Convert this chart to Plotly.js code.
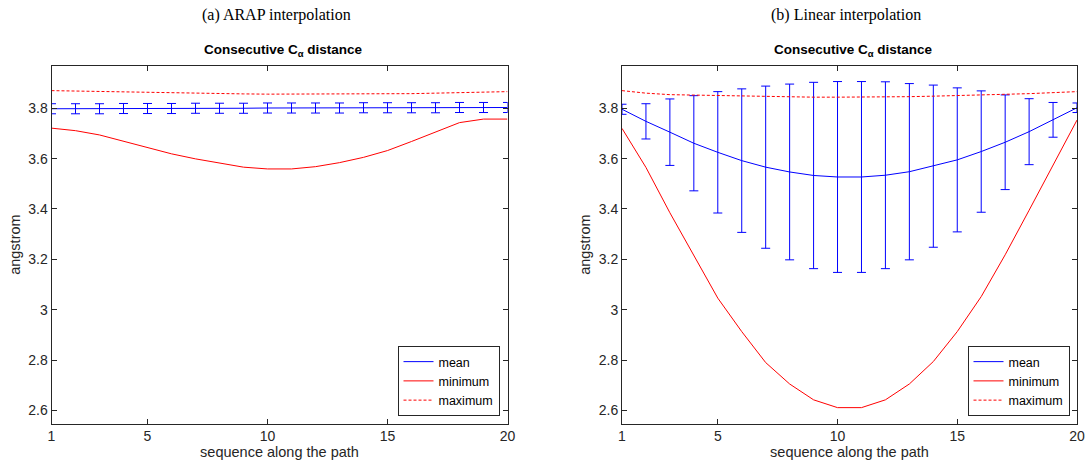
<!DOCTYPE html>
<html>
<head>
<meta charset="utf-8">
<script src="https://cdn.plot.ly/plotly-3.0.1.min.js"></script>
<style>html,body{margin:0;padding:0;background:#fff;}#chart{width:1088px;height:467px;}</style>
</head>
<body>
<div id="chart"></div>
<script>
// ---- data ----
const seq = [1,2,3,4,5,6,7,8,9,10,11,12,13,14,15,16,17,18,19,20];
const xTicks = [1,5,10,15,20];
const yTicks = [2.6,2.8,3.0,3.2,3.4,3.6,3.8];

// (a) ARAP interpolation
const arapMean = [3.798,3.798,3.798,3.799,3.799,3.799,3.800,3.800,3.800,3.801,3.801,3.801,3.801,3.802,3.802,3.802,3.802,3.803,3.803,3.803];
const arapStd  = [0.020,0.020,0.020,0.020,0.020,0.020,0.020,0.020,0.020,0.020,0.020,0.020,0.020,0.020,0.020,0.020,0.020,0.020,0.020,0.020];
const arapMin  = [3.721,3.711,3.694,3.670,3.644,3.619,3.599,3.582,3.566,3.559,3.559,3.568,3.584,3.605,3.632,3.668,3.707,3.743,3.757,3.757];
const arapMax  = [3.870,3.868,3.866,3.864,3.862,3.860,3.858,3.857,3.857,3.856,3.856,3.855,3.855,3.856,3.857,3.858,3.860,3.862,3.864,3.866];

// (b) Linear interpolation
const linMean = [3.796,3.748,3.705,3.661,3.625,3.592,3.566,3.547,3.533,3.527,3.527,3.534,3.548,3.570,3.595,3.628,3.665,3.707,3.754,3.802];
const linStd  = [0.020,0.070,0.132,0.189,0.241,0.285,0.322,0.349,0.370,0.379,0.379,0.371,0.350,0.322,0.286,0.241,0.188,0.131,0.069,0.019];
const linMin  = [3.720,3.565,3.385,3.213,3.046,2.913,2.790,2.705,2.642,2.611,2.611,2.642,2.705,2.794,2.913,3.052,3.218,3.395,3.574,3.753];
const linMax  = [3.870,3.860,3.854,3.852,3.849,3.847,3.846,3.845,3.844,3.844,3.844,3.845,3.846,3.848,3.850,3.852,3.855,3.858,3.862,3.866];

const seriesNames = ['mean','minimum','maximum'];
const panelTitles = ['(a) ARAP interpolation','(b) Linear interpolation'];
const subTitle = 'Consecutive C<sub>α</sub> distance';
const xTitle = 'sequence along the path';
const yTitle = 'angstrom';

// ---- styling ----
const BLUE = '#0000ff', RED = '#ff0000', AX = '#262626';
const SANS = '"Liberation Sans", Arial, sans-serif';
const SERIF = '"Liberation Serif", "Times New Roman", serif';

function panelTraces(mean, std, mn, mx, xa, ya, lg) {
  return [
    {x: seq, y: mean, xaxis: xa, yaxis: ya, legend: lg, name: seriesNames[0], type: 'scatter', mode: 'lines',
     line: {color: BLUE, width: 1},
     error_y: {type: 'data', array: std, visible: true, color: BLUE, thickness: 1, width: 4.5}},
    {x: seq, y: mn, xaxis: xa, yaxis: ya, legend: lg, name: seriesNames[1], type: 'scatter', mode: 'lines',
     line: {color: RED, width: 1}},
    {x: seq, y: mx, xaxis: xa, yaxis: ya, legend: lg, name: seriesNames[2], type: 'scatter', mode: 'lines',
     line: {color: RED, width: 1, dash: '3px,2px'}}
  ];
}

const data = [].concat(
  panelTraces(arapMean, arapStd, arapMin, arapMax, 'x', 'y', 'legend'),
  panelTraces(linMean, linStd, linMin, linMax, 'x2', 'y2', 'legend2')
);

const W = 1088, H = 467;
const yDom = [1 - 423.5/H, 1 - 65.7/H];
const xDom1 = [51.5/W, 507.5/W];
const xDom2 = [622/W, 1077/W];

function xAxis(dom, anchor) {
  return {domain: dom, anchor: anchor, range: [1, 20], tickvals: xTicks, ticks: 'inside', ticklen: 5,
    tickcolor: AX, showline: true, linecolor: AX, linewidth: 1, mirror: 'ticks', showgrid: false, zeroline: false,
    tickfont: {family: SANS, size: 14, color: AX}, automargin: false,
    title: {text: xTitle, font: {family: SANS, size: 14.5, color: AX}, standoff: 2}};
}
function yAxis(dom, anchor) {
  return {domain: dom, anchor: anchor, range: [2.548, 3.969], tickvals: yTicks, ticks: 'inside', ticklen: 5,
    tickcolor: AX, showline: true, linecolor: AX, linewidth: 1, mirror: 'ticks', showgrid: false, zeroline: false,
    tickfont: {family: SANS, size: 14, color: AX}, automargin: false,
    title: {text: yTitle, font: {family: SANS, size: 14.5, color: AX}, standoff: 4}};
}
function legendBox(xr) {
  return {x: xr, y: 1 - 416/H, xanchor: 'right', yanchor: 'bottom', xref: 'paper', yref: 'paper',
    bgcolor: '#ffffff', bordercolor: AX, borderwidth: 1, font: {family: SANS, size: 12.5, color: '#000'},
    tracegroupgap: 0, itemwidth: 30};
}

const layout = {
  width: W, height: H,
  margin: {l: 0, r: 0, t: 0, b: 0},
  paper_bgcolor: '#fff', plot_bgcolor: '#fff',
  showlegend: true,
  xaxis: xAxis(xDom1, 'y'), yaxis: yAxis(yDom, 'x'),
  xaxis2: xAxis(xDom2, 'y2'), yaxis2: yAxis(yDom, 'x2'),
  legend: legendBox(499.5/W),
  legend2: legendBox(1069.5/W),
  annotations: [
    {text: panelTitles[0], x: 276/W, y: 1 - 15/H, xref: 'paper', yref: 'paper', xanchor: 'center', yanchor: 'middle',
     showarrow: false, font: {family: SERIF, size: 16, color: '#000'}},
    {text: panelTitles[1], x: 846/W, y: 1 - 15/H, xref: 'paper', yref: 'paper', xanchor: 'center', yanchor: 'middle',
     showarrow: false, font: {family: SERIF, size: 16, color: '#000'}},
    {text: '<b>' + subTitle + '</b>', x: (xDom1[0]+xDom1[1])/2 + 4/W, y: 1 - 50/H, xref: 'paper', yref: 'paper', xanchor: 'center', yanchor: 'middle',
     showarrow: false, font: {family: SANS, size: 13.5, color: '#000'}},
    {text: '<b>' + subTitle + '</b>', x: (xDom2[0]+xDom2[1])/2 + 4/W, y: 1 - 50/H, xref: 'paper', yref: 'paper', xanchor: 'center', yanchor: 'middle',
     showarrow: false, font: {family: SANS, size: 13.5, color: '#000'}}
  ]
};

Plotly.newPlot('chart', data, layout, {displayModeBar: false, staticPlot: true});
</script>
</body>
</html>
